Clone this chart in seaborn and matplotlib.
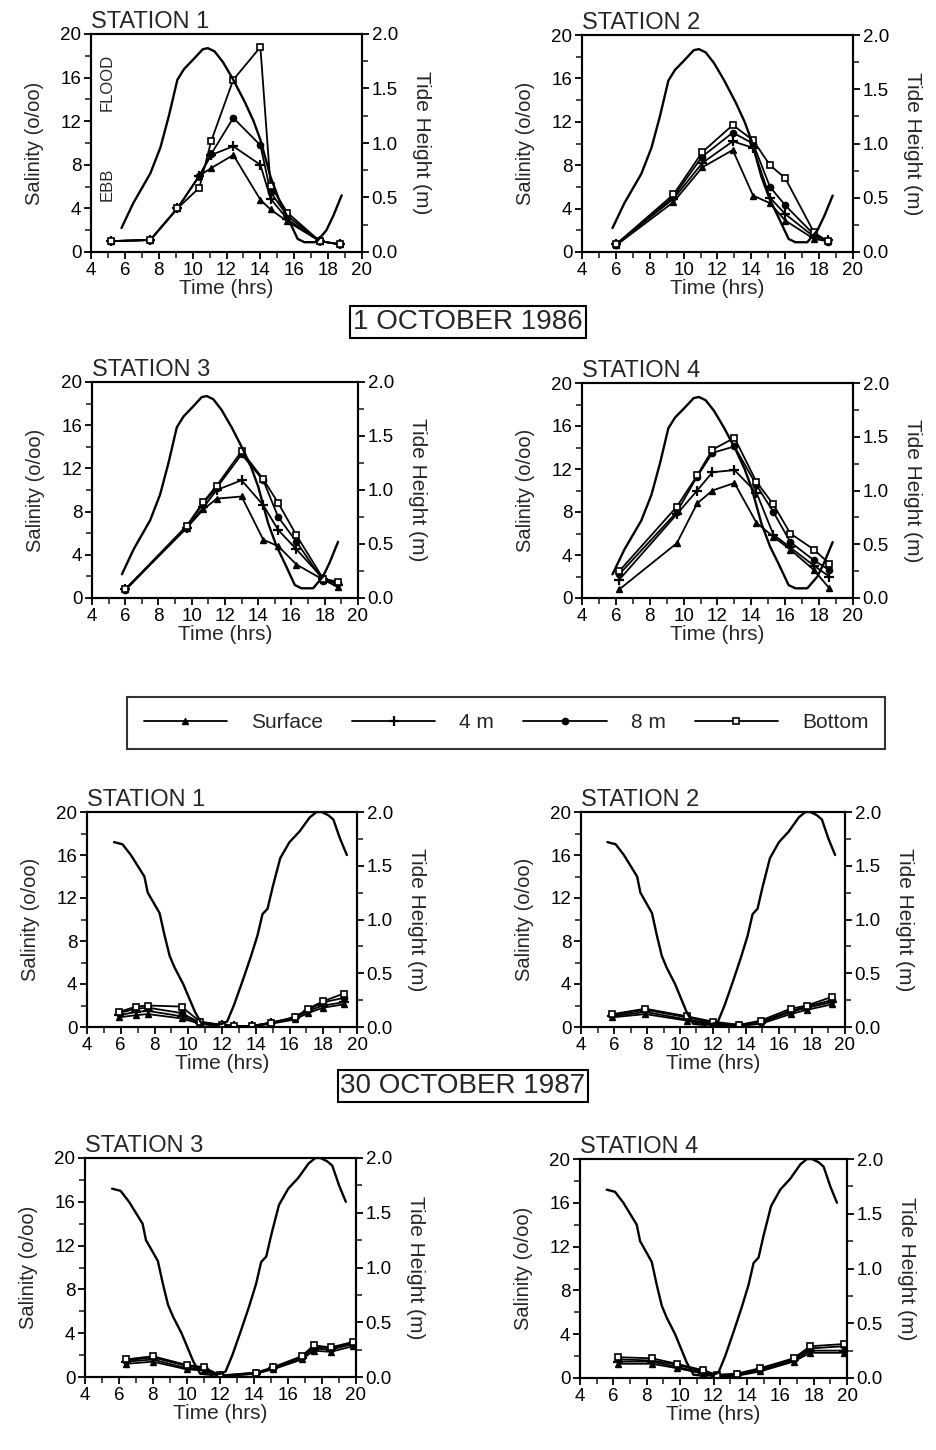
import numpy as np
import pandas as pd
import matplotlib
matplotlib.use('Agg')
import matplotlib.pyplot as plt
from matplotlib.lines import Line2D
from matplotlib.ticker import MultipleLocator, FormatStrFormatter
import seaborn as sns

sns.set_style('ticks')
plt.rcParams['font.family'] = ['Liberation Sans', 'DejaVu Sans']

depths = ['Surface', '4 m', '8 m', 'Bottom']

# ---- tide height (m), shared by all stations on each date ----
tide86_t = [5.8, 6.5, 7.5, 8.1, 8.6, 9.1, 9.5, 10.0, 10.6, 10.9, 11.3, 11.8, 12.4,
            13.1, 13.6, 14.0, 14.6, 15.1, 15.6, 16.2, 16.6, 17.3, 17.9, 18.3, 18.8]
tide86_h = [0.22, 0.45, 0.72, 0.96, 1.25, 1.58, 1.68, 1.76, 1.86, 1.87, 1.84, 1.74, 1.58,
            1.37, 1.20, 1.03, 0.69, 0.48, 0.32, 0.12, 0.09, 0.09, 0.20, 0.33, 0.52]

tide87_t = [5.6, 6.1, 6.6, 7.0, 7.4, 7.6, 8.3, 8.6, 8.9, 9.2, 9.7, 10.4, 10.8, 11.5,
            12.0, 12.3, 12.7, 13.2, 13.7, 14.1, 14.4, 14.7, 15.0, 15.45, 16.0, 16.6,
            17.2, 17.6, 17.9, 18.3, 18.6, 19.0, 19.4]
tide87_h = [1.72, 1.70, 1.60, 1.50, 1.40, 1.25, 1.06, 0.85, 0.66, 0.55, 0.40, 0.14, 0.03, 0.02,
            0.03, 0.05, 0.20, 0.42, 0.65, 0.85, 1.05, 1.10, 1.30, 1.57, 1.72, 1.82,
            1.95, 2.00, 2.00, 1.97, 1.93, 1.75, 1.60]

# ---- salinity (o/oo), 1 October 1986 ----
s1_86_t = [5.2, 7.5, 9.1, 10.4, 11.1, 12.4, 14.0, 14.6, 15.6, 17.5, 18.7]
s1_86_surface = [1.0, 1.1, 4.0, 7.0, 7.7, 8.9, 4.8, 3.9, 2.8, 1.0, 0.7]
s1_86_4m = [1.0, 1.1, 4.0, 7.0, 8.9, 9.7, 8.0, 4.9, 3.0, 1.0, 0.7]
s1_86_8m = [1.0, 1.1, 4.0, 7.0, 9.0, 12.3, 9.8, 5.5, 3.3, 1.0, 0.7]
s1_86_bottom = [1.0, 1.1, 4.0, 5.9, 10.2, 15.8, 18.8, 6.1, 3.6, 1.0, 0.7]

s2_86_t = [6.0, 9.4, 11.1, 12.9, 14.1, 15.1, 16.0, 17.7, 18.5]
s2_86_surface = [0.6, 4.6, 7.8, 9.4, 5.2, 4.5, 2.9, 1.2, 1.0]
s2_86_4m = [0.7, 4.9, 8.2, 10.2, 9.6, 5.0, 3.5, 1.4, 1.1]
s2_86_8m = [0.6, 5.1, 8.8, 11.0, 10.0, 6.0, 4.3, 1.6, 0.9]
s2_86_bottom = [0.7, 5.3, 9.2, 11.7, 10.3, 8.0, 6.8, 1.8, 1.0]

s3_86_t = [6.0, 9.7, 10.7, 11.5, 13.0, 14.3, 15.2, 16.3, 17.9, 18.8]
s3_86_surface = [0.8, 6.5, 8.2, 9.2, 9.4, 5.4, 4.8, 3.1, 1.7, 1.0]
s3_86_4m = [0.8, 6.5, 8.4, 10.0, 10.9, 8.6, 6.3, 4.5, 1.8, 1.2]
s3_86_8m = [0.7, 6.6, 8.8, 10.2, 13.3, 10.9, 7.5, 5.2, 1.6, 1.4]
s3_86_bottom = [0.8, 6.7, 8.9, 10.4, 13.6, 11.0, 8.8, 5.8, 1.8, 1.5]

s4_86_t = [6.2, 9.6, 10.8, 11.7, 13.0, 14.3, 15.3, 16.3, 17.7, 18.6]
s4_86_surface = [0.8, 5.1, 8.8, 10.0, 10.7, 7.0, 5.7, 4.5, 2.6, 0.9]
s4_86_4m = [1.7, 7.8, 10.0, 11.7, 11.9, 9.8, 5.9, 4.7, 3.0, 2.0]
s4_86_8m = [2.2, 8.0, 11.3, 13.5, 14.1, 10.5, 8.0, 5.2, 3.5, 2.6]
s4_86_bottom = [2.5, 8.5, 11.4, 13.8, 14.9, 10.8, 8.7, 6.0, 4.5, 3.2]

# ---- salinity (o/oo), 30 October 1987 ----
s1_87_t = [5.9, 6.9, 7.6, 9.6, 10.7, 12.0, 12.7, 13.8, 14.9, 16.3, 17.1, 18.0, 19.2]
s1_87_surface = [0.9, 1.1, 1.2, 0.8, 0.3, 0.1, 0.05, 0.05, 0.3, 0.7, 1.3, 1.8, 2.1]
s1_87_4m = [1.1, 1.4, 1.5, 1.0, 0.4, 0.2, 0.1, 0.1, 0.4, 0.8, 1.5, 2.0, 2.3]
s1_87_8m = [1.3, 1.7, 1.8, 1.3, 0.4, 0.2, 0.1, 0.1, 0.4, 0.9, 1.6, 2.3, 2.7]
s1_87_bottom = [1.4, 1.9, 2.0, 1.9, 0.5, 0.2, 0.1, 0.1, 0.4, 0.9, 1.7, 2.4, 3.1]

s2_87_t = [5.9, 7.9, 10.4, 12.0, 13.6, 14.9, 16.7, 17.7, 19.2]
s2_87_surface = [0.9, 1.2, 0.6, 0.2, 0.1, 0.3, 1.2, 1.6, 2.1]
s2_87_4m = [1.0, 1.4, 0.7, 0.3, 0.1, 0.4, 1.4, 1.8, 2.3]
s2_87_8m = [1.1, 1.6, 0.9, 0.4, 0.2, 0.5, 1.5, 1.9, 2.5]
s2_87_bottom = [1.2, 1.7, 1.0, 0.5, 0.2, 0.6, 1.7, 2.0, 2.8]

s3_87_t = [6.4, 8.0, 10.0, 11.0, 12.0, 14.1, 15.1, 16.8, 17.5, 18.5, 19.8]
s3_87_surface = [1.2, 1.4, 0.7, 0.6, 0.05, 0.3, 0.7, 1.6, 2.4, 2.3, 2.8]
s3_87_4m = [1.4, 1.6, 0.8, 0.7, 0.1, 0.3, 0.8, 1.7, 2.6, 2.5, 3.0]
s3_87_8m = [1.5, 1.8, 1.0, 0.8, 0.1, 0.4, 0.8, 1.8, 2.8, 2.6, 3.1]
s3_87_bottom = [1.6, 1.9, 1.1, 0.9, 0.15, 0.4, 0.9, 1.9, 2.9, 2.7, 3.2]

s4_87_t = [6.3, 8.3, 9.8, 11.4, 12.2, 13.4, 14.8, 16.8, 17.8, 19.8]
s4_87_surface = [1.3, 1.3, 0.9, 0.4, 0.05, 0.2, 0.6, 1.5, 2.3, 2.3]
s4_87_4m = [1.5, 1.5, 1.0, 0.5, 0.1, 0.3, 0.7, 1.6, 2.5, 2.5]
s4_87_8m = [1.7, 1.6, 1.2, 0.6, 0.2, 0.3, 0.8, 1.7, 2.7, 2.9]
s4_87_bottom = [1.9, 1.8, 1.3, 0.7, 0.3, 0.4, 0.9, 1.8, 2.9, 3.1]

# marker style of each depth
styles = {
    'Surface': dict(marker='^', ms=5, mfc='black', mec='black', mew=1),
    '4 m': dict(marker='+', ms=7, mfc='black', mec='black', mew=1.6),
    '8 m': dict(marker='o', ms=4.5, mfc='black', mec='black', mew=1),
    'Bottom': dict(marker='s', ms=4.5, mfc='white', mec='black', mew=1.2),
}

W, H = 937, 1450
fig = plt.figure(figsize=(W / 100, H / 100), dpi=100)


def panel(px, title, t, series, tt, th, flood=False):
    l, top, r, b = px
    ax = fig.add_axes([l / W, 1 - b / H, (r - l) / W, (b - top) / H])
    ax2 = ax.twinx()
    for name, vals in zip(depths, series):
        df = pd.DataFrame({'Time': t, 'Salinity': vals})
        sns.lineplot(data=df, x='Time', y='Salinity', ax=ax, color='black',
                     lw=1.3, estimator=None, legend=False, **styles[name])
    tide = pd.DataFrame({'Time': tt, 'Tide': th})
    sns.lineplot(data=tide, x='Time', y='Tide', ax=ax2, color='black', lw=1.7,
                 estimator=None, sort=False, legend=False)

    ax.set_xlim(4, 20)
    ax.set_ylim(0, 20)
    ax2.set_ylim(0, 2)
    ax.xaxis.set_major_locator(MultipleLocator(2))
    ax.xaxis.set_minor_locator(MultipleLocator(1))
    ax.yaxis.set_major_locator(MultipleLocator(4))
    ax.yaxis.set_minor_locator(MultipleLocator(2))
    ax2.yaxis.set_major_locator(MultipleLocator(0.5))
    ax2.yaxis.set_minor_locator(MultipleLocator(0.25))
    ax2.yaxis.set_major_formatter(FormatStrFormatter('%.1f'))
    for a in (ax, ax2):
        a.tick_params(which='major', direction='out', length=5, width=1.3,
                      labelsize=13.5, pad=2, colors='black')
        a.tick_params(which='minor', direction='out', length=4, width=1.2)
        for s in a.spines.values():
            s.set_visible(True)
            s.set_linewidth(1.5)
            s.set_color('black')
    ax.set_xlabel('Time (hrs)', fontsize=15, labelpad=0)
    ax.set_ylabel('Salinity (o/oo)', fontsize=14.5, labelpad=12)
    ax2.set_ylabel('Tide Height (m)', fontsize=15, rotation=270, labelpad=24)
    ax.set_title(title, loc='left', fontsize=17, pad=4)
    if flood:
        ax.text(4.95, 15.6, 'FLOOD', rotation=90, ha='center', va='center', fontsize=12)
        ax.text(4.95, 6.2, 'EBB', rotation=90, ha='center', va='center', fontsize=12)
    return ax


panel((91, 34, 362, 252), 'STATION 1', s1_86_t,
      [s1_86_surface, s1_86_4m, s1_86_8m, s1_86_bottom], tide86_t, tide86_h, flood=True)
panel((582, 35, 853, 252), 'STATION 2', s2_86_t,
      [s2_86_surface, s2_86_4m, s2_86_8m, s2_86_bottom], tide86_t, tide86_h)
panel((92, 382, 358, 598), 'STATION 3', s3_86_t,
      [s3_86_surface, s3_86_4m, s3_86_8m, s3_86_bottom], tide86_t, tide86_h)
panel((582, 383, 853, 598), 'STATION 4', s4_86_t,
      [s4_86_surface, s4_86_4m, s4_86_8m, s4_86_bottom], tide86_t, tide86_h)

panel((87, 812, 357, 1027), 'STATION 1', s1_87_t,
      [s1_87_surface, s1_87_4m, s1_87_8m, s1_87_bottom], tide87_t, tide87_h)
panel((581, 812, 845, 1027), 'STATION 2', s2_87_t,
      [s2_87_surface, s2_87_4m, s2_87_8m, s2_87_bottom], tide87_t, tide87_h)
panel((85, 1158, 356, 1377), 'STATION 3', s3_87_t,
      [s3_87_surface, s3_87_4m, s3_87_8m, s3_87_bottom], tide87_t, tide87_h)
panel((580, 1159, 847, 1378), 'STATION 4', s4_87_t,
      [s4_87_surface, s4_87_4m, s4_87_8m, s4_87_bottom], tide87_t, tide87_h)

# date boxes
box = dict(boxstyle='square,pad=0.1', fc='white', ec='black', lw=1.5)
fig.text(468 / W, 1 - 322 / H, '1 OCTOBER 1986', ha='center', va='center',
         fontsize=20, bbox=box)
fig.text(463 / W, 1 - 1086 / H, '30 OCTOBER 1987', ha='center', va='center',
         fontsize=20, bbox=box)

# legend
handles = [Line2D([], [], color='black', lw=1.3, **styles[d]) for d in depths]
leg = fig.legend(handles, depths, loc='center', bbox_to_anchor=(506 / W, 1 - 723 / H),
                 ncol=4, fontsize=15, handlelength=4.0, handletextpad=1.15,
                 columnspacing=1.4, frameon=True, fancybox=False, borderpad=0.8,
                 numpoints=1)
leg.get_frame().set_edgecolor('black')
leg.get_frame().set_linewidth(1.5)

fig.savefig('out.png', dpi=100, facecolor='white')
